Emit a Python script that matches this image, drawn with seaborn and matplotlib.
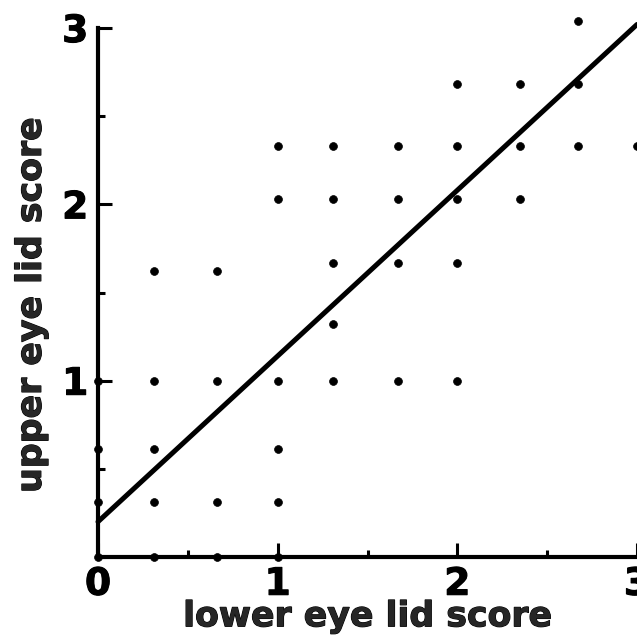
import matplotlib
matplotlib.use("Agg")
import matplotlib.pyplot as plt
import matplotlib.patheffects as pe
import seaborn as sns
import pandas as pd
from matplotlib.ticker import MultipleLocator

# Data
lower = [0, 0.31, 0.66, 1.0,
         0, 0.31, 0.66, 1.0,
         0, 0.31, 1.0,
         0, 0.31, 0.66, 1.0, 1.31, 1.67, 2.0,
         1.31,
         0.31, 0.66,
         1.31, 1.67, 2.0,
         1.0, 1.31, 1.67, 2.0, 2.35,
         1.0, 1.31, 1.67, 2.0, 2.35, 2.67, 3.0,
         2.0, 2.35, 2.67,
         2.67]
upper = [0, 0, 0, 0,
         0.31, 0.31, 0.31, 0.31,
         0.61, 0.61, 0.61,
         1.0, 1.0, 1.0, 1.0, 1.0, 1.0, 1.0,
         1.32,
         1.62, 1.62,
         1.67, 1.67, 1.67,
         2.03, 2.03, 2.03, 2.03, 2.03,
         2.33, 2.33, 2.33, 2.33, 2.33, 2.33, 2.33,
         2.68, 2.68, 2.68,
         3.04]
fit_x = [0, 3]
fit_y = [0.2, 3.02]
xticks = [0, 1, 2, 3]
yticks = [1, 2, 3]

df = pd.DataFrame({"lower": lower, "upper": upper})
fit = pd.DataFrame({"x": fit_x, "y": fit_y})

sns.set_theme(style="ticks")
plt.rcParams['font.family'] = ['DejaVu Sans']

fig = plt.figure(figsize=(6.37, 6.36), dpi=100)
ax = fig.add_axes([98/637, 1 - 557/636, 1 - 98/637, (557 - 28)/636])

sns.scatterplot(data=df, x="lower", y="upper", ax=ax, color="black", s=32,
                edgecolor="black", linewidth=0.5, clip_on=False, zorder=3)
sns.lineplot(data=fit, x="x", y="y", ax=ax, color="black", linewidth=3.6,
             clip_on=False, zorder=4)

ax.set_xlim(0, 3)
ax.set_ylim(0, 3)
ax.set_xticks(xticks)
ax.set_yticks(yticks)
ax.xaxis.set_minor_locator(MultipleLocator(0.5))
ax.yaxis.set_minor_locator(MultipleLocator(0.5))
ax.set_xticklabels([str(t) for t in xticks])
ax.set_yticklabels([str(t) for t in yticks])

for s in ["top", "right"]:
    ax.spines[s].set_visible(False)
for s in ["left", "bottom"]:
    ax.spines[s].set_linewidth(3.0)
    ax.spines[s].set_color("black")

ax.tick_params(which="major", direction="in", length=10, width=2.2,
               labelsize=27, pad=7, colors="black")
ax.tick_params(which="minor", direction="in", length=5, width=2.2, colors="black")
thick = [pe.withStroke(linewidth=0.8, foreground="black")]
for lab in ax.get_xticklabels() + ax.get_yticklabels():
    lab.set_fontweight("bold")
    lab.set_path_effects(thick)

ax.set_xlabel("lower eye lid score", fontsize=25, fontweight="bold",
              path_effects=thick)
ax.set_ylabel("upper eye lid score", fontsize=25, fontweight="bold",
              path_effects=thick)
ax.xaxis.set_label_coords(0.5, -0.080)
ax.yaxis.set_label_coords(-0.093, 0.476)

fig.savefig("out.png", dpi=100)
